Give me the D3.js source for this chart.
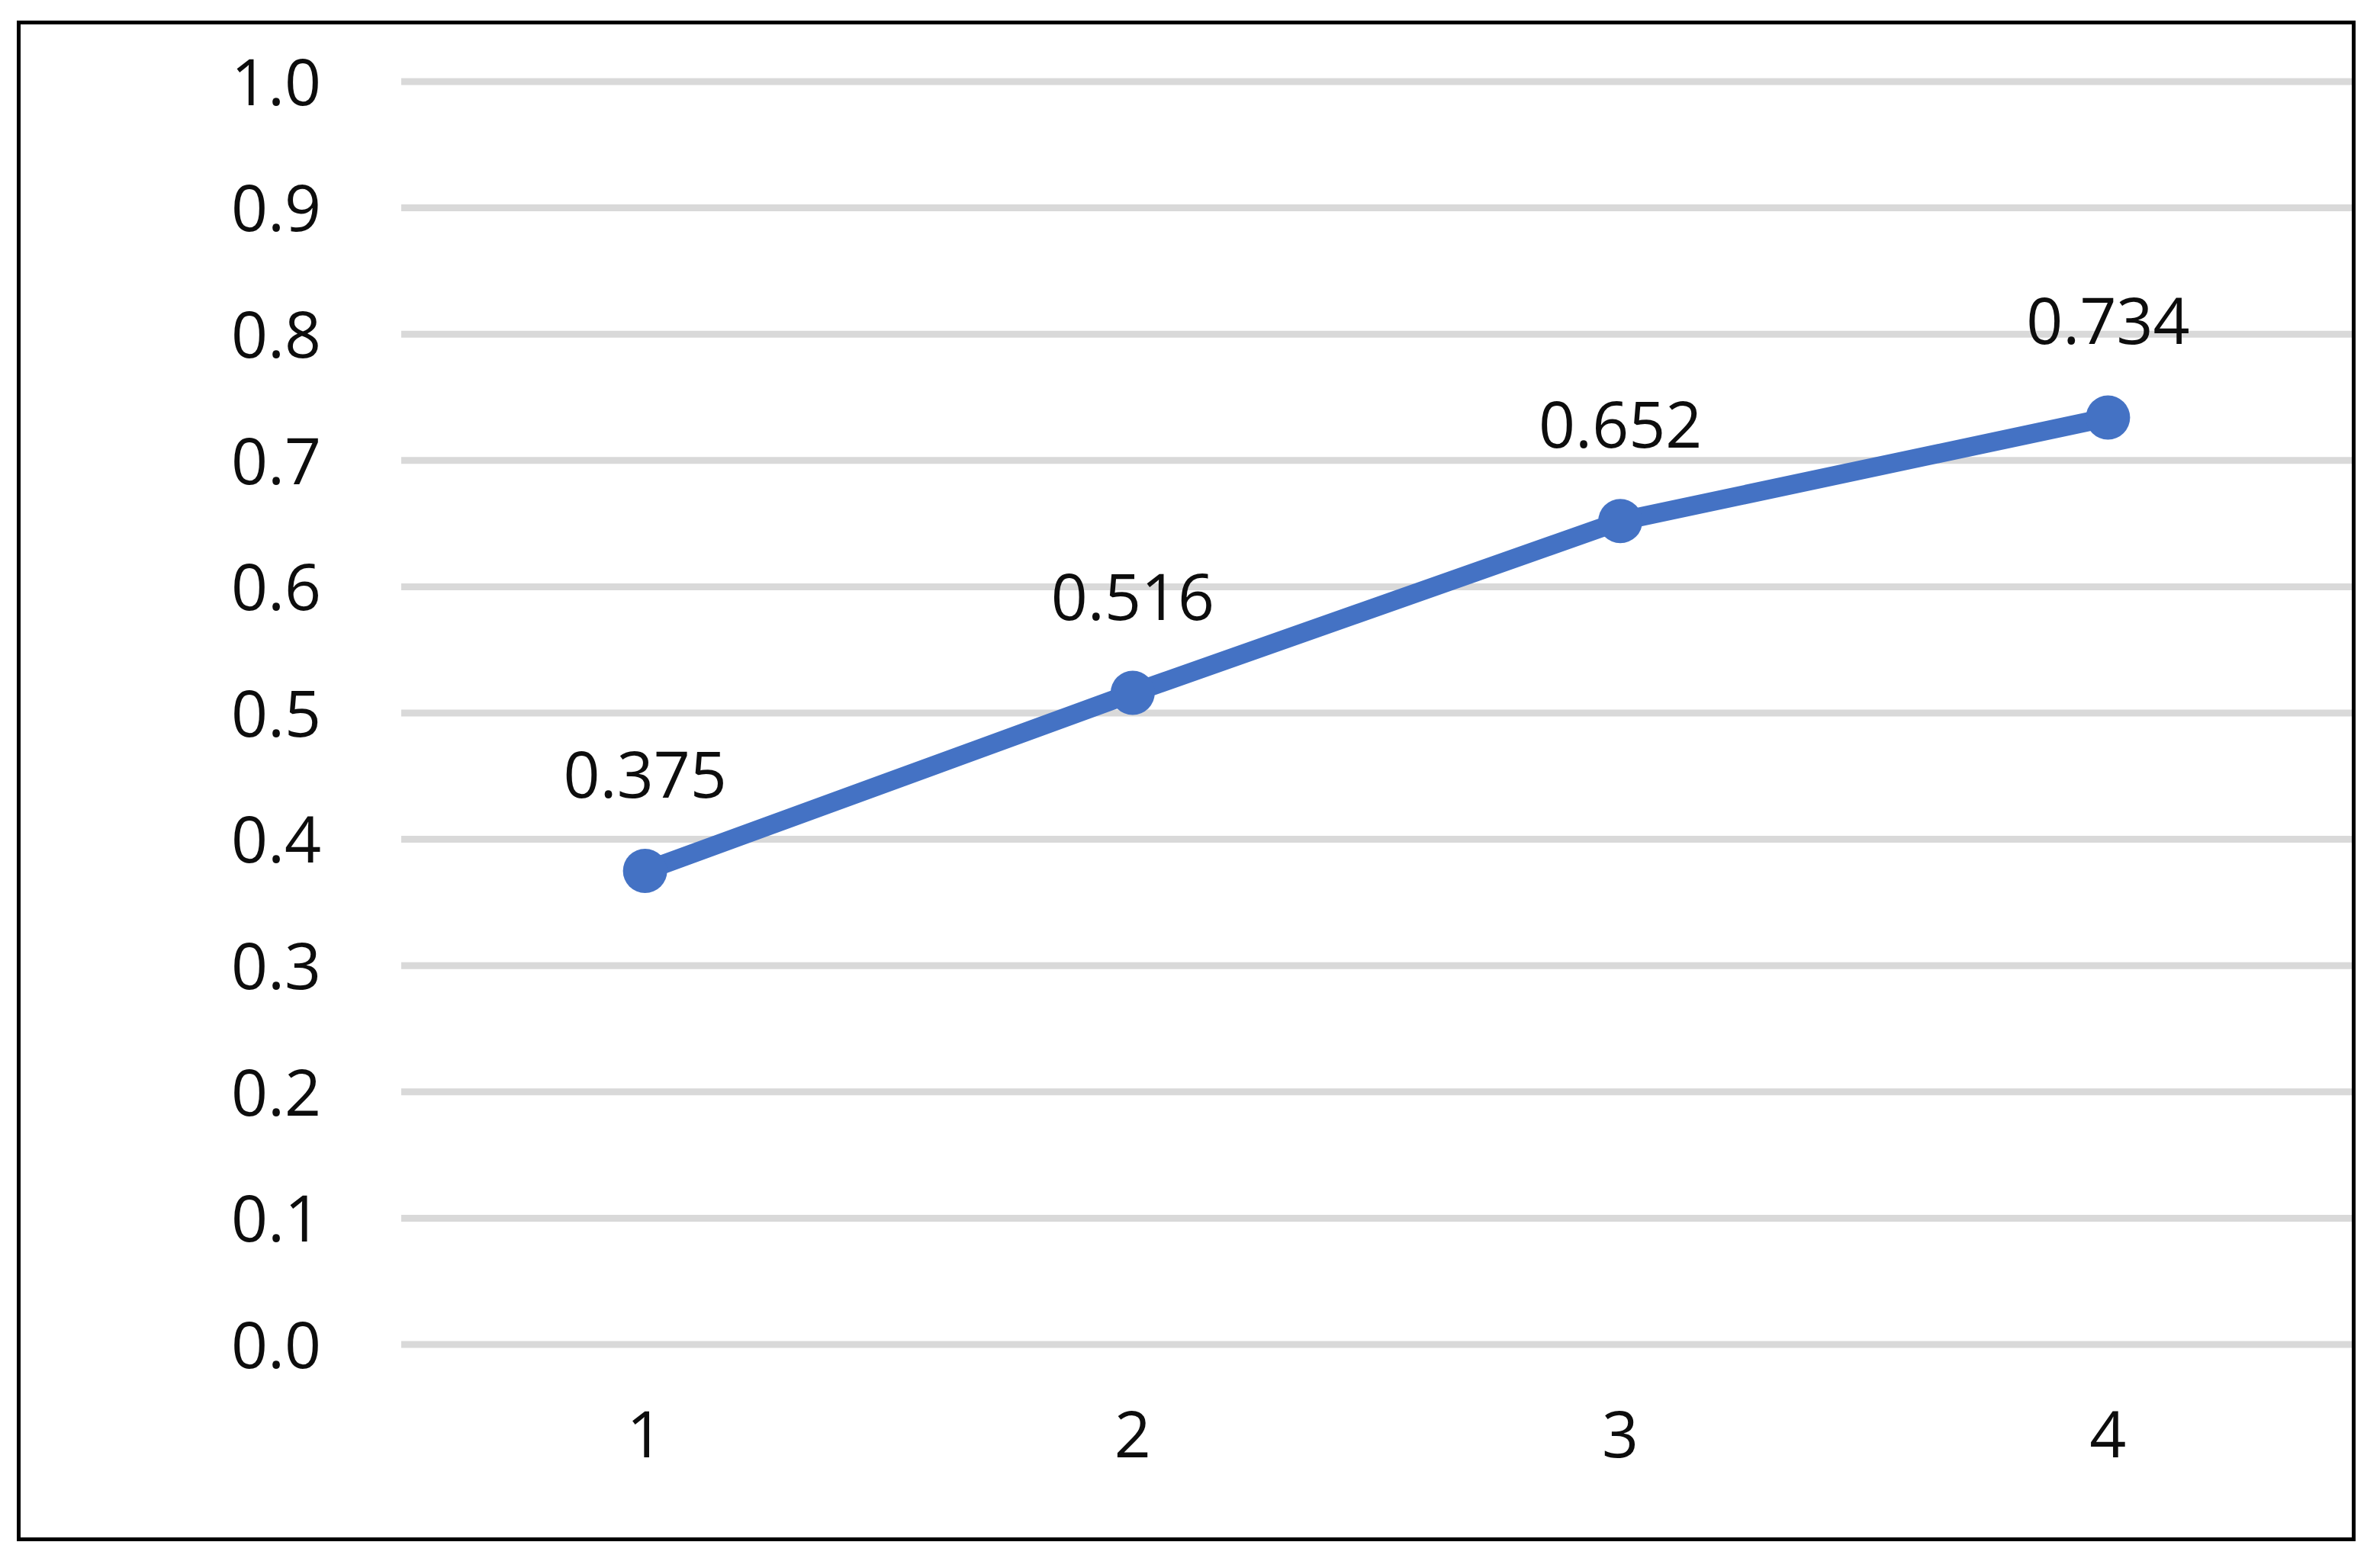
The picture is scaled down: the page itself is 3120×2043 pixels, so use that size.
<!DOCTYPE html>
<html>
<head>
<meta charset="utf-8">
<script src="https://cdn.jsdelivr.net/npm/d3@7"></script>
<style>
  html, body { margin: 0; padding: 0; background: #ffffff; }
  svg { display: block; }
  text { font-family: "Open Sans", "Liberation Sans", Arial, sans-serif; }
</style>
</head>
<body>
<svg id="chart" width="3120" height="2043"></svg>
<script>
// ---- data ----
const categories = ["1", "2", "3", "4"];
const values = [0.375, 0.516, 0.652, 0.734];
const dataLabels = ["0.375", "0.516", "0.652", "0.734"];
const yTicks = [0.0, 0.1, 0.2, 0.3, 0.4, 0.5, 0.6, 0.7, 0.8, 0.9, 1.0];
const yTickLabels = ["0.0", "0.1", "0.2", "0.3", "0.4", "0.5", "0.6", "0.7", "0.8", "0.9", "1.0"];

// ---- layout ----
const W = 3120, H = 2043;
const plot = { left: 526, right: 3083, top: 107, bottom: 1763 };
const fontSize = 84;
const fontFamily = '"Open Sans", "Liberation Sans", Arial, sans-serif';
const textColor = "#0d0d0d";
const lineColor = "#4472C4";
const gridColor = "#D9D9D9";

const svg = d3.select("#chart");

svg.append("rect").attr("width", W).attr("height", H).attr("fill", "#ffffff");

const x = d3.scaleBand().domain(categories).range([plot.left, plot.right]).paddingInner(0).paddingOuter(0);
const y = d3.scaleLinear().domain([0, 1]).range([plot.bottom, plot.top]);
const xc = c => x(c) + x.bandwidth() / 2;

// gridlines
svg.append("g")
  .selectAll("line")
  .data(yTicks)
  .join("line")
  .attr("x1", plot.left)
  .attr("x2", plot.right)
  .attr("y1", d => y(d))
  .attr("y2", d => y(d))
  .attr("stroke", gridColor)
  .attr("stroke-width", 9);

// y axis labels
const yAxis = d3.axisLeft(y)
  .tickValues(yTicks)
  .tickFormat((d, i) => yTickLabels[i])
  .tickSize(0)
  .tickPadding(0);
const gy = svg.append("g").attr("transform", `translate(${421},0)`).call(yAxis);
gy.select(".domain").remove();
gy.selectAll("text")
  .attr("font-size", fontSize)
  .attr("fill", textColor)
  .attr("font-family", fontFamily)
  .attr("dy", "0.36em");

// x axis labels
const xAxis = d3.axisBottom(x).tickSize(0).tickPadding(0);
const gx = svg.append("g").attr("transform", `translate(0,${1911})`).call(xAxis);
gx.select(".domain").remove();
gx.selectAll("text")
  .attr("font-size", fontSize)
  .attr("fill", textColor)
  .attr("font-family", fontFamily)
  .attr("y", 0)
  .attr("dy", 0);

// line
const pts = categories.map((c, i) => ({ c, v: values[i], label: dataLabels[i] }));
const line = d3.line().x(d => xc(d.c)).y(d => y(d.v));
svg.append("path")
  .datum(pts)
  .attr("d", line)
  .attr("fill", "none")
  .attr("stroke", lineColor)
  .attr("stroke-width", 25)
  .attr("stroke-linejoin", "round")
  .attr("stroke-linecap", "round");

// markers
svg.append("g")
  .selectAll("circle")
  .data(pts)
  .join("circle")
  .attr("cx", d => xc(d.c))
  .attr("cy", d => y(d.v))
  .attr("r", 29)
  .attr("fill", lineColor);

// data labels
svg.append("g")
  .selectAll("text")
  .data(pts)
  .join("text")
  .attr("x", d => xc(d.c))
  .attr("y", d => y(d.v) - 96)
  .attr("text-anchor", "middle")
  .attr("font-size", fontSize)
  .attr("font-family", fontFamily)
  .attr("fill", textColor)
  .text(d => d.label);

// outer border
svg.append("rect")
  .attr("x", 24.5)
  .attr("y", 29.5)
  .attr("width", 3061)
  .attr("height", 1989)
  .attr("fill", "none")
  .attr("stroke", "#000000")
  .attr("stroke-width", 5);
</script>
</body>
</html>
